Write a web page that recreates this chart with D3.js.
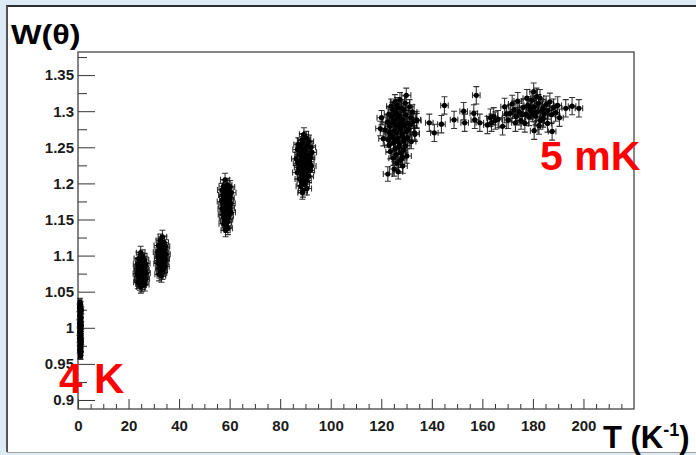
<!DOCTYPE html>
<html>
<head>
<meta charset="utf-8">
<script src="https://cdn.jsdelivr.net/npm/d3@7"></script>
<style>
body { margin: 0; background: #ddebf4; }
svg { display: block; }
text { font-family: "Liberation Sans", Arial, Helvetica, sans-serif; font-weight: bold; }
</style>
</head>
<body>
<svg id="chart"></svg>
<script>
const width = 696;
const height = 455;

// measured points [T (1/K), W(theta)] per temperature run
const run4K = [[0.8,1.036],[1.1,1.031],[0.6,1.028],[1.3,1.024],[0.9,1.021],[0.7,1.017],[1.2,1.014],[1.0,1.010],[0.6,1.006],[1.3,1.003],[0.8,1.000],[1.1,0.997],[0.7,0.994],[1.2,0.990],[0.9,0.988],[0.6,0.985],[1.3,0.981],[1.0,0.979],[0.8,0.976],[1.1,0.972],[0.7,0.970],[1.2,0.967],[0.9,0.963],[1.0,0.961],[0.8,1.029],[1.1,1.008],[0.9,0.995],[1.0,0.983]];
const run25 = [[24.8,1.104],[25.6,1.099],[23.9,1.096],[26.3,1.094],[24.5,1.092],[25.2,1.091],[26.8,1.089],[23.6,1.088],[24.9,1.087],[25.8,1.086],[24.2,1.085],[26.1,1.084],[25.4,1.083],[23.8,1.082],[24.7,1.081],[26.5,1.080],[25.1,1.080],[24.0,1.079],[25.9,1.078],[24.6,1.077],[26.9,1.076],[23.5,1.075],[25.3,1.075],[24.4,1.074],[26.2,1.073],[25.0,1.072],[23.9,1.071],[25.7,1.070],[24.3,1.069],[26.6,1.068],[25.5,1.067],[24.1,1.066],[26.0,1.065],[24.8,1.064],[23.7,1.063],[25.6,1.062],[24.5,1.061],[26.4,1.060],[25.2,1.059],[24.9,1.057]];
const run33 = [[33.4,1.126],[32.6,1.121],[34.1,1.118],[33.0,1.116],[31.8,1.114],[34.6,1.113],[32.9,1.111],[33.7,1.110],[32.2,1.108],[34.3,1.107],[33.2,1.106],[31.5,1.105],[33.9,1.104],[32.7,1.103],[34.8,1.102],[33.5,1.101],[32.4,1.100],[31.9,1.099],[34.2,1.098],[33.1,1.097],[32.8,1.096],[34.5,1.095],[33.6,1.094],[32.0,1.093],[33.3,1.092],[34.0,1.091],[32.5,1.090],[31.7,1.089],[33.8,1.088],[32.9,1.087],[34.4,1.085],[33.2,1.084],[32.3,1.082],[33.7,1.080],[32.8,1.078],[33.4,1.076],[32.1,1.074],[33.0,1.072]];
const run58 = [[58.2,1.205],[59.1,1.198],[57.6,1.196],[60.2,1.195],[58.7,1.193],[57.0,1.191],[59.6,1.190],[58.0,1.188],[60.7,1.187],[58.9,1.185],[57.4,1.184],[59.3,1.183],[58.4,1.181],[60.0,1.180],[57.8,1.179],[59.8,1.177],[58.6,1.176],[56.9,1.175],[59.0,1.174],[60.4,1.172],[58.1,1.171],[57.5,1.170],[59.5,1.169],[58.8,1.167],[60.1,1.166],[57.2,1.165],[58.3,1.164],[59.2,1.162],[57.9,1.161],[60.5,1.160],[58.5,1.158],[57.3,1.157],[59.7,1.156],[58.7,1.154],[57.7,1.152],[59.4,1.150],[58.2,1.148],[59.0,1.146],[57.6,1.144],[58.8,1.141],[59.3,1.138],[58.4,1.135]];
const run89 = [[89.4,1.268],[90.3,1.263],[88.6,1.260],[91.4,1.258],[89.0,1.256],[87.2,1.254],[90.9,1.253],[88.0,1.251],[92.2,1.250],[89.7,1.248],[86.8,1.247],[90.0,1.246],[88.8,1.244],[92.6,1.243],[89.3,1.242],[87.6,1.240],[91.2,1.239],[88.4,1.238],[91.9,1.236],[89.9,1.235],[86.3,1.234],[90.2,1.233],[87.8,1.231],[91.6,1.230],[89.1,1.229],[87.0,1.228],[90.7,1.227],[88.9,1.225],[92.4,1.224],[89.6,1.223],[87.4,1.222],[91.0,1.220],[88.2,1.219],[91.8,1.218],[89.2,1.216],[86.7,1.215],[90.1,1.213],[88.7,1.212],[91.4,1.210],[89.5,1.208],[87.7,1.206],[90.5,1.204],[88.5,1.202],[89.8,1.199],[88.1,1.196],[90.6,1.193],[89.0,1.190],[88.8,1.187]];
const run127 = [[129.9,1.322],[127.4,1.316],[125.4,1.313],[129.5,1.311],[126.2,1.309],[123.9,1.307],[131.2,1.306],[128.1,1.304],[124.5,1.302],[128.9,1.301],[132.3,1.299],[125.8,1.298],[123.0,1.296],[129.8,1.295],[127.0,1.294],[124.1,1.292],[131.7,1.291],[126.5,1.290],[128.6,1.288],[125.0,1.287],[132.8,1.286],[122.4,1.285],[127.6,1.284],[130.6,1.283],[125.6,1.281],[129.2,1.280],[123.4,1.279],[126.9,1.278],[131.0,1.276],[127.5,1.275],[121.5,1.274],[125.2,1.273],[130.0,1.272],[126.1,1.270],[128.4,1.269],[133.3,1.268],[123.7,1.267],[128.2,1.266],[124.6,1.264],[130.4,1.263],[126.4,1.262],[122.8,1.260],[129.0,1.259],[131.9,1.258],[124.9,1.256],[127.2,1.255],[123.1,1.253],[129.6,1.252],[126.9,1.250],[125.4,1.248],[128.7,1.246],[123.6,1.244],[127.9,1.242],[125.9,1.240],[130.1,1.238],[124.8,1.235],[127.6,1.232],[126.2,1.228],[128.5,1.224],[125.1,1.220],[126.7,1.216],[122.6,1.213],[119.6,1.276],[120.1,1.291],[134.0,1.287],[133.2,1.270],[120.8,1.262],[124.3,1.284],[129.3,1.262],[125.9,1.296],[128.3,1.236],[123.2,1.271],[131.4,1.281],[126.6,1.305],[128.0,1.283],[125.3,1.258]];
const runScan = [[134.0,1.288],[139.0,1.284],[141.0,1.270],[143.8,1.282],[145.0,1.308],[148.8,1.288],[152.6,1.300],[153.0,1.284],[157.6,1.322],[156.6,1.297],[157.0,1.288],[159.0,1.284],[163.2,1.291],[163.6,1.284],[165.1,1.287],[164.5,1.293],[162.0,1.281],[166.2,1.289]];
const run5mK = [[168.0,1.279],[168.8,1.306],[171.0,1.297],[170.2,1.288],[172.5,1.302],[173.4,1.293],[171.8,1.310],[174.6,1.299],[175.3,1.287],[176.1,1.305],[174.0,1.314],[177.2,1.296],[178.0,1.308],[176.8,1.283],[179.1,1.301],[180.3,1.327],[179.6,1.315],[181.0,1.293],[180.6,1.306],[182.2,1.311],[181.7,1.299],[183.0,1.287],[182.8,1.318],[183.9,1.304],[184.5,1.296],[185.2,1.309],[184.1,1.290],[186.0,1.301],[186.7,1.313],[187.3,1.295],[188.1,1.305],[187.6,1.272],[180.5,1.273],[189.0,1.298],[189.8,1.308],[190.5,1.291],[178.5,1.292],[177.6,1.318],[175.8,1.295],[173.1,1.284],[169.5,1.296],[185.8,1.283],[182.4,1.280],[179.9,1.298],[181.4,1.320],[183.5,1.301],[178.9,1.305],[193.0,1.304],[195.5,1.307],[198.2,1.304]];

// error half-widths per run (same order as runs)
const errT = [0.7, 1.7, 1.7, 1.8, 1.8, 1.8, 1.5, 1.5];
const errW = [0.005, 0.009, 0.009, 0.009, 0.009, 0.010, 0.012, 0.012];

const yTickValues = [0.9, 0.95, 1.0, 1.05, 1.1, 1.15, 1.2, 1.25, 1.3, 1.35];
const yTickLabels = ["0.9", "0.95", "1", "1.05", "1.1", "1.15", "1.2", "1.25", "1.3", "1.35"];
const xTickValues = [0, 20, 40, 60, 80, 100, 120, 140, 160, 180, 200];
const xTickLabels = ["0", "20", "40", "60", "80", "100", "120", "140", "160", "180", "200"];

const runs = [run4K, run25, run33, run58, run89, run127, runScan, run5mK];
const points = [];
runs.forEach((run, i) => run.forEach(d => points.push({t: d[0], w: d[1], et: errT[i], ew: errW[i]})));

const svg = d3.select("#chart").attr("width", width).attr("height", height);

// pad background
svg.append("rect").attr("x", 7).attr("y", 6).attr("width", width - 7).attr("height", 446).attr("fill", "#fff");
svg.append("line").attr("x1", 6).attr("x2", width).attr("y1", 6).attr("y2", 6).attr("stroke", "#2e2e2e").attr("stroke-width", 2);
svg.append("line").attr("x1", 7).attr("x2", 7).attr("y1", 6).attr("y2", 452).attr("stroke", "#555").attr("stroke-width", 2);
svg.append("line").attr("x1", 7).attr("x2", width).attr("y1", 452.5).attr("y2", 452.5).attr("stroke", "#a0a0a0").attr("stroke-width", 1);

const x = d3.scaleLinear().domain([0, 220]).range([78, 634]);
const y = d3.scaleLinear().domain([0.8875, 1.382]).range([409, 52]);

const tickStyle = g => {
    g.select(".domain").remove();
    g.selectAll(".tick line").attr("stroke", "#333").attr("stroke-width", 1);
    g.selectAll(".tick text").attr("fill", "#1a1a1a").style("font-size", "15px");
};

// y axis: minor then major
svg.append("g").attr("transform", "translate(78,0)")
    .call(d3.axisLeft(y).tickValues(d3.range(0.925, 1.38, 0.05)).tickSize(-9).tickFormat(""))
    .call(tickStyle);
svg.append("g").attr("transform", "translate(78,0)")
    .call(d3.axisLeft(y).tickValues(yTickValues).tickSize(-17).tickPadding(4)
        .tickFormat((d, i) => yTickLabels[i]))
    .call(tickStyle);

// x axis
svg.append("g").attr("transform", "translate(0,409)")
    .call(d3.axisBottom(x).tickValues(d3.range(5, 220, 5).filter(v => v % 20 !== 0)).tickSize(-5).tickFormat(""))
    .call(tickStyle);
svg.append("g").attr("transform", "translate(0,409)")
    .call(d3.axisBottom(x).tickValues(xTickValues).tickSize(-10).tickPadding(11)
        .tickFormat((d, i) => xTickLabels[i]))
    .call(tickStyle);

// frame
svg.append("rect")
    .attr("x", x(0)).attr("y", y(1.382))
    .attr("width", x(220) - x(0)).attr("height", y(0.8875) - y(1.382))
    .attr("fill", "none").attr("stroke", "#444").attr("stroke-width", 1.3);

// error bars
const cap = 3;
const errPath = d => {
    const cx = x(d.t), cy = y(d.w);
    const x0 = x(d.t - d.et), x1 = x(d.t + d.et);
    const y0 = y(d.w + d.ew), y1 = y(d.w - d.ew);
    return `M${x0},${cy}H${x1}M${x0},${cy - cap}V${cy + cap}M${x1},${cy - cap}V${cy + cap}` +
        `M${cx},${y0}V${y1}M${cx - cap},${y0}H${cx + cap}M${cx - cap},${y1}H${cx + cap}`;
};

svg.append("g")
    .selectAll("path")
    .data(points)
    .enter()
    .append("path")
    .attr("d", errPath)
    .attr("fill", "none")
    .attr("stroke", "#111")
    .attr("stroke-opacity", 0.85)
    .attr("stroke-width", 1.1);

svg.append("g")
    .selectAll("circle")
    .data(points)
    .enter()
    .append("circle")
    .attr("cx", d => x(d.t))
    .attr("cy", d => y(d.w))
    .attr("r", 2.6)
    .attr("fill", "#000");

// axis titles
svg.append("text")
    .attr("transform", "translate(11,44) scale(1.2,1)")
    .style("font-size", "27px")
    .attr("fill", "#000")
    .text("W(θ)");

const xTitle = svg.append("text")
    .attr("x", 603).attr("y", 448)
    .style("font-size", "31px")
    .attr("fill", "#000");
xTitle.append("tspan").text("T (K");
xTitle.append("tspan").attr("dy", -12).style("font-size", "18px").text("-1");
xTitle.append("tspan").attr("dy", 12).text(")");

// temperature labels
svg.append("text").attr("x", 59).attr("y", 393).style("font-size", "42px").attr("fill", "#ff0000").text("4 K");
svg.append("text").attr("x", 540).attr("y", 170).style("font-size", "41px").attr("fill", "#ff0000").text("5 mK");
</script>
</body>
</html>
